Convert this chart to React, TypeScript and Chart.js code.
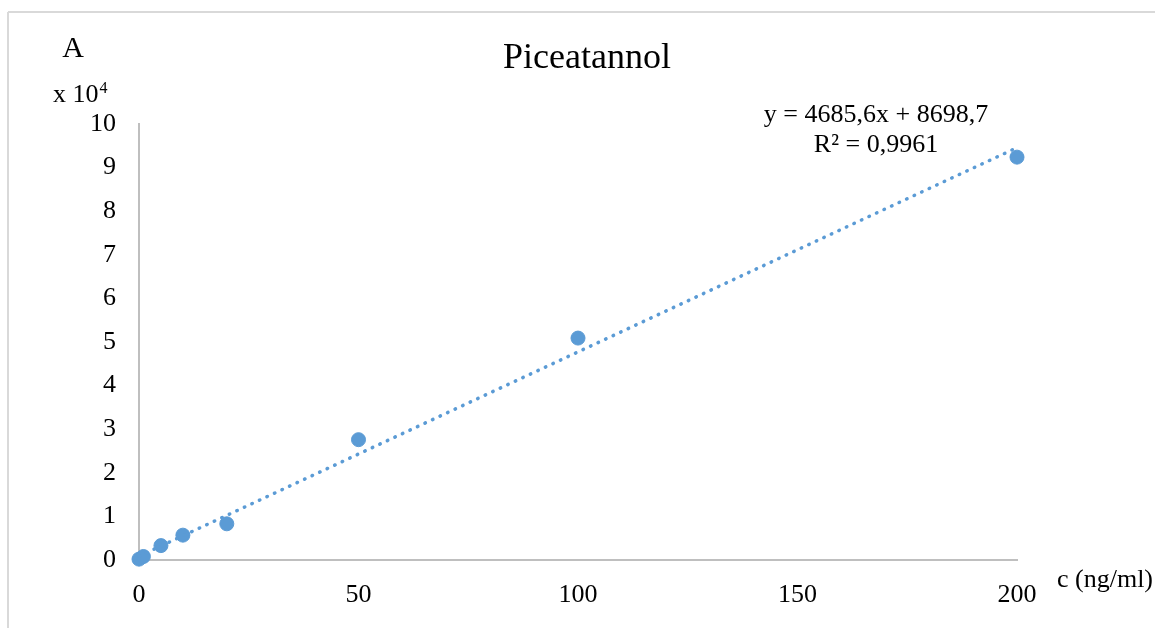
import React, { useEffect, useRef } from "react";
import { Chart, registerables } from "chart.js";

Chart.register(...registerables);

const concentrations = [0, 1, 5, 10, 20, 50, 100, 200];
const areas = [0.02, 0.08, 0.33, 0.57, 0.83, 2.76, 5.09, 9.24];
const trendX = [0, 200];
const trendY = [0.087, 9.458];
const xTicks = [0, 50, 100, 150, 200];
const yTicks = [0, 1, 2, 3, 4, 5, 6, 7, 8, 9, 10];
const chartTitle = "Piceatannol";
const equationText = "y = 4685,6x + 8698,7";
const r2Text = "R\u00B2 = 0,9961";
const xAxisLabel = "c (ng/ml)";
const yAxisLabel = "A";

const FONT = "'Liberation Serif', 'Times New Roman', serif";
const BLUE = "#5b9bd5";

const textPlugin = {
  id: "texts",
  beforeDraw(chart: any) {
    const ctx = chart.ctx;
    ctx.save();
    ctx.fillStyle = "#ffffff";
    ctx.fillRect(0, 0, chart.width, chart.height);
    ctx.strokeStyle = "#d9d9d9";
    ctx.lineWidth = 2;
    ctx.beginPath();
    ctx.moveTo(8, 12);
    ctx.lineTo(chart.width, 12);
    ctx.moveTo(8, 12);
    ctx.lineTo(8, chart.height);
    ctx.stroke();
    ctx.restore();
  },
  afterDraw(chart: any) {
    const ctx = chart.ctx;
    ctx.save();
    ctx.fillStyle = "#000000";
    ctx.textBaseline = "alphabetic";
    ctx.font = `36px ${FONT}`;
    ctx.textAlign = "center";
    ctx.fillText(chartTitle, 587, 68);
    ctx.font = `30px ${FONT}`;
    ctx.fillText(yAxisLabel, 73, 57);
    ctx.textAlign = "left";
    ctx.font = `26px ${FONT}`;
    ctx.fillText("x 10", 53, 102);
    const w = ctx.measureText("x 10").width;
    ctx.font = `16px ${FONT}`;
    ctx.fillText("4", 53 + w + 1, 93);
    ctx.textAlign = "center";
    ctx.font = `26px ${FONT}`;
    ctx.fillText(equationText, 876, 122);
    ctx.fillText(r2Text, 876, 152);
    ctx.textAlign = "left";
    ctx.fillText(xAxisLabel, 1057, 587);
    ctx.restore();
  },
};

export default function App() {
  const ref = useRef<HTMLCanvasElement | null>(null);
  useEffect(() => {
    if (!ref.current) return;
    const chart = new Chart(ref.current, {
      type: "scatter",
      data: {
        datasets: [
          {
            type: "line",
            label: "trend",
            data: trendX.map((x, i) => ({ x, y: trendY[i] })),
            borderColor: BLUE,
            borderWidth: 3.5,
            borderDash: [0.5, 7.8],
            borderCapStyle: "round",
            pointRadius: 0,
            fill: false,
            clip: false,
            order: 1,
          } as any,
          {
            label: "data",
            data: concentrations.map((x, i) => ({ x, y: areas[i] })),
            backgroundColor: BLUE,
            borderColor: BLUE,
            borderWidth: 1,
            pointRadius: 7,
            clip: false,
            order: 2,
          },
        ],
      },
      options: {
        responsive: false,
        animation: false,
        layout: { padding: { left: 59, right: 138, top: 124, bottom: 0 } },
        plugins: {
          legend: { display: false },
          tooltip: { enabled: false },
          title: { display: false },
        },
        scales: {
          x: {
            type: "linear",
            min: 0,
            max: 200,
            afterFit: (s: any) => {
              s.height = 68;
            },
            afterBuildTicks: (s: any) => {
              s.ticks = xTicks.map((v) => ({ value: v }));
            },
            grid: { display: true, drawOnChartArea: false, drawTicks: false },
            border: { display: true, color: "#bfbfbf", width: 2 },
            ticks: {
              padding: 20,
              color: "#000",
              font: { family: FONT, size: 26 },
              maxRotation: 0,
            },
          },
          y: {
            type: "linear",
            min: 0,
            max: 10,
            afterFit: (s: any) => {
              s.width = 80;
            },
            afterBuildTicks: (s: any) => {
              s.ticks = yTicks.map((v) => ({ value: v }));
            },
            grid: { display: true, drawOnChartArea: false, drawTicks: false },
            border: { display: true, color: "#bfbfbf", width: 2 },
            ticks: {
              padding: 23,
              color: "#000",
              font: { family: FONT, size: 26 },
            },
          },
        },
      },
      plugins: [textPlugin],
    } as any);
    return () => chart.destroy();
  }, []);
  return (
    <div style={{ position: "fixed", left: 0, top: 0, width: 1155, height: 628, background: "#fff" }}>
      <canvas ref={ref} width={1155} height={628} style={{ width: 1155, height: 628, display: "block" }} />
    </div>
  );
}
